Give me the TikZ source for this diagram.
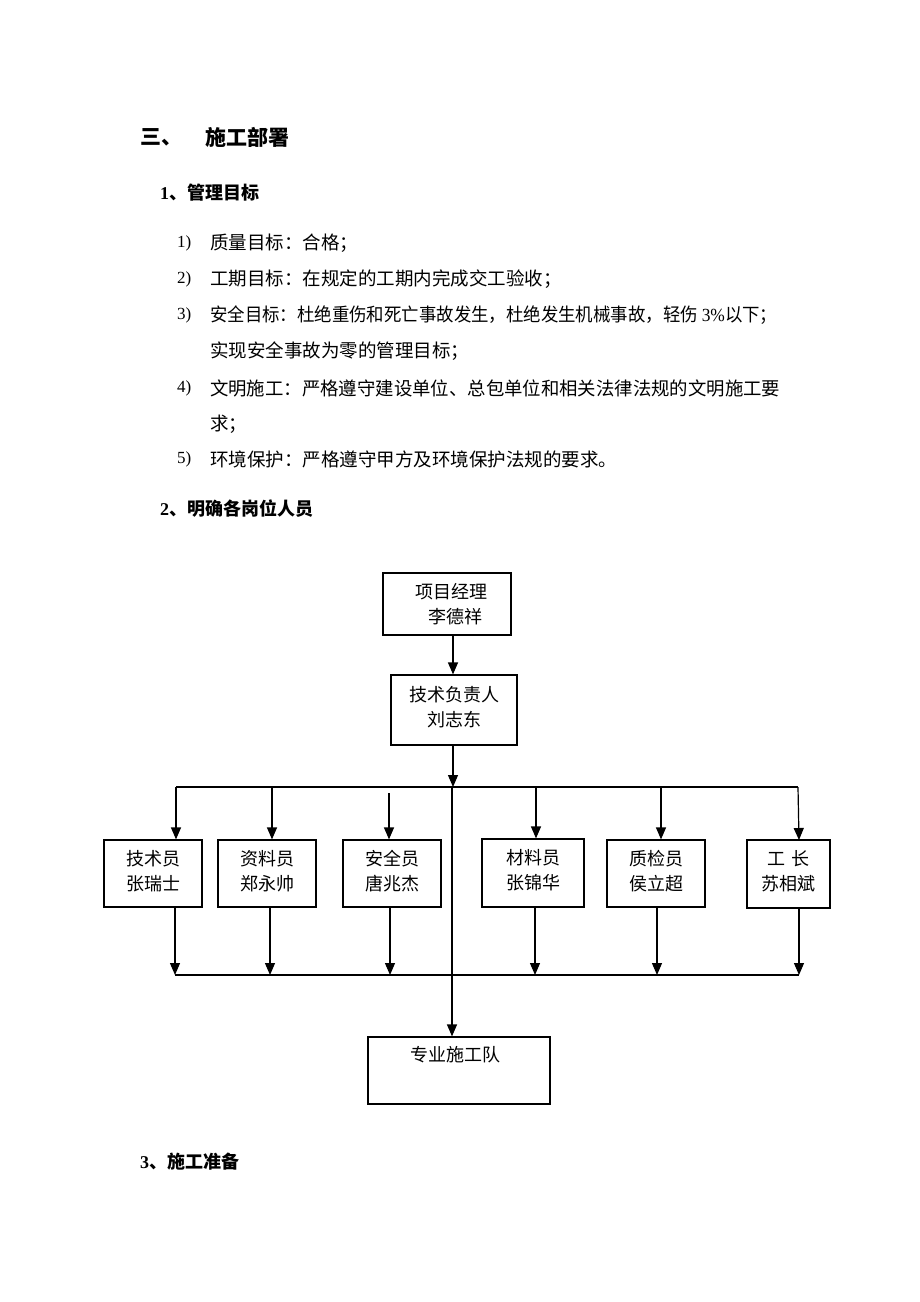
\documentclass[tikz,border=0pt]{standalone}
\usepackage{fontspec}
\usepackage{graphicx}
\setmainfont{Liberation Serif}
\newfontfamily\cjk{Noto Sans CJK SC}
\usetikzlibrary{arrows.meta}
\begin{document}
\begin{tikzpicture}[x=1pt,y=-1pt,
  txt/.style={inner sep=0pt,anchor=west,font=\cjk\fontsize{18.5}{20}\selectfont},
  hd/.style={inner sep=0pt,anchor=west,font=\cjk\bfseries\fontsize{18}{20}\selectfont},
  hdbig/.style={inner sep=0pt,anchor=west,font=\cjk\bfseries\fontsize{21}{24}\selectfont},
  num/.style={inner sep=0pt,anchor=west,font=\fontsize{17}{20}\selectfont},
  box/.style={draw,line width=1.2pt,inner sep=0pt},
  lbl/.style={inner sep=0pt,align=center,font=\cjk\fontsize{18}{24.5}\selectfont},
  arr/.style={line width=1.2pt,-{Triangle[length=12pt,width=10pt]}},
  ln/.style={line width=1.2pt}]
\useasboundingbox[fill=white] (0,0) rectangle (920,1302);

% headings and text
\node[hdbig] (h0a) at (140,137) {三、};
\node[hdbig] (h0b) at (205,137) {施工部署};
\node[hd] (h1) at (160,193) {{\rmfamily\bfseries 1}、管理目标};
\node[num] (n1) at (177,243) {1)};
\node[txt] (t1) at (210,243) {质量目标：合格；};
\node[num] (n2) at (177,279) {2)};
\node[txt] (t2) at (210,279) {工期目标：在规定的工期内完成交工验收；};
\node[num] (n3) at (177,315) {3)};
\node[txt] (t3) at (210,315) {\resizebox{567pt}{\height}{安全目标：杜绝重伤和死亡事故发生，杜绝发生机械事故，轻伤 {\rmfamily 3\%}以下；}};
\node[txt] (t3b) at (210,351) {实现安全事故为零的管理目标；};
\node[num] (n4) at (177,388) {4)};
\node[txt] (t4) at (210,388) {\resizebox{570pt}{\height}{文明施工：严格遵守建设单位、总包单位和相关法律法规的文明施工要}};
\node[txt] (t4b) at (210,424) {求；};
\node[num] (n5) at (177,459) {5)};
\node[txt] (t5) at (210,459) {环境保护：严格遵守甲方及环境保护法规的要求。};
\node[hd] (h2) at (160,509) {{\rmfamily\bfseries 2}、明确各岗位人员};
\node[hd] (h3) at (140,1162) {{\rmfamily\bfseries 3}、施工准备};

% boxes
\node[box,minimum width=128pt,minimum height=62pt] (pm) at (447,604) {};
\node[lbl] (pmt) at (451,604) {项目经理\\\hspace*{8pt}李德祥};
\node[box,minimum width=126pt,minimum height=70pt] (tj) at (454,710) {};
\node[lbl] (tjt) at (454,707) {技术负责人\\刘志东};

\node[box,minimum width=98pt,minimum height=67pt] (b1) at (153,873.5) {};
\node[lbl] (b1t) at (153,871) {技术员\\张瑞士};
\node[box,minimum width=98pt,minimum height=67pt] (b2) at (267,873.5) {};
\node[lbl] (b2t) at (267,871) {资料员\\郑永帅};
\node[box,minimum width=98pt,minimum height=67pt] (b3) at (392,873.5) {};
\node[lbl] (b3t) at (392,871) {安全员\\唐兆杰};
\node[box,minimum width=102pt,minimum height=68pt] (b4) at (533,873) {};
\node[lbl] (b4t) at (533,870) {材料员\\张锦华};
\node[box,minimum width=98pt,minimum height=67pt] (b5) at (656,873.5) {};
\node[lbl] (b5t) at (656,871) {质检员\\侯立超};
\node[box,minimum width=83pt,minimum height=68pt] (b6) at (788.5,874) {};
\node[lbl] (b6t) at (788.5,871) {工\hspace{6pt}长\\苏相斌};

\node[box,minimum width=182pt,minimum height=67pt] (team) at (459,1070.5) {};
\node[lbl] (teamt) at (455,1055) {专业施工队};

% connectors
\coordinate (c0) at (453,635);
\draw[arr] (c0) -- (c0 |- tj.north);
\coordinate (c1) at (453,745);
\coordinate (c2) at (453,787);
\draw[arr] (c1) -- (c2);
\coordinate (busL) at (176,787);
\coordinate (busR) at (798,787);
\draw[ln] (busL) -- (busR);
\coordinate (mid) at (452,787);
\draw[arr] (mid) -- (mid |- team.north);

\draw[arr] (busL) -- (busL |- b1.north);
\coordinate (d2) at (272,787);
\draw[arr] (d2) -- (d2 |- b2.north);
\coordinate (d3) at (389,793);
\draw[arr] (d3) -- (d3 |- b3.north);
\coordinate (d4) at (536,787);
\draw[arr] (d4) -- (d4 |- b4.north);
\coordinate (d5) at (661,787);
\draw[arr] (d5) -- (d5 |- b5.north);
\draw[arr] (busR) -- (799,840);

\coordinate (botL) at (175,975);
\coordinate (botR) at (799,975);
\draw[ln] (botL) -- (botR);
\coordinate (u1) at (175,907);
\draw[arr] (u1) -- (botL);
\coordinate (u2) at (270,907);
\draw[arr] (u2) -- (u2 |- botL);
\coordinate (u3) at (390,907);
\draw[arr] (u3) -- (u3 |- botL);
\coordinate (u4) at (535,907);
\draw[arr] (u4) -- (u4 |- botL);
\coordinate (u5) at (657,907);
\draw[arr] (u5) -- (u5 |- botL);
\coordinate (u6) at (799,908);
\draw[arr] (u6) -- (botR);
\end{tikzpicture}
\end{document}
